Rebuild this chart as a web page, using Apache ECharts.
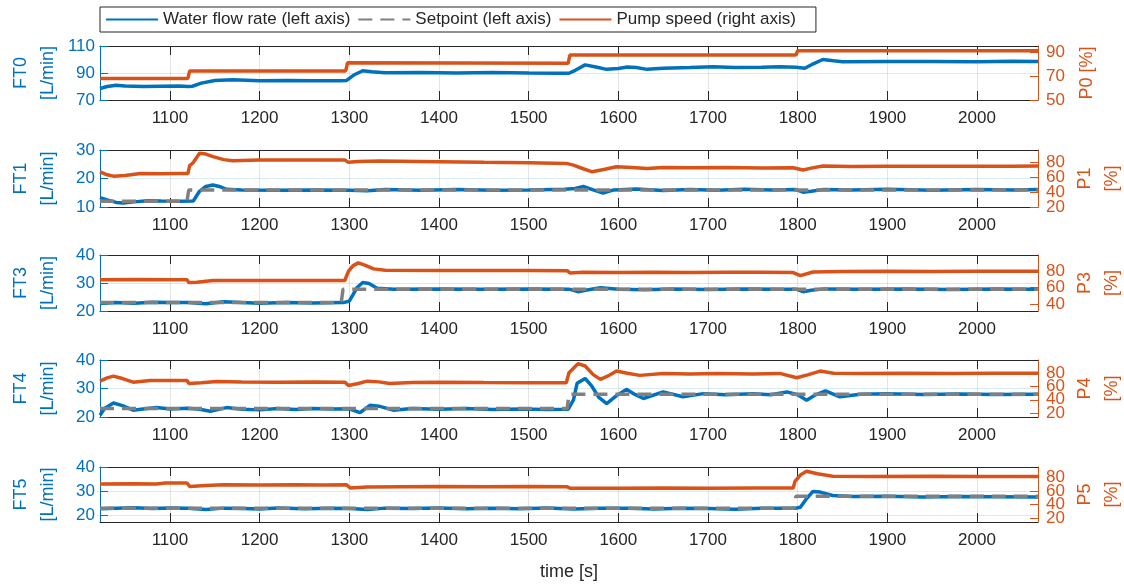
<!DOCTYPE html>
<html>
<head>
<meta charset="utf-8">
<script src="https://cdn.jsdelivr.net/npm/echarts@6/dist/echarts.min.js"></script>
<style>
html, body { margin: 0; padding: 0; background: #fff; }
#chart { width: 1124px; height: 585px; }
</style>
</head>
<body>
<div id="chart"></div>
<script>
// time ticks shared by every panel
var timeTicks = [1100, 1200, 1300, 1400, 1500, 1600, 1700, 1800, 1900, 2000];

// FT0 / P0
var ft0Flow = [[1022,78.5],[1030,80],[1040,81],[1050,80.3],[1070,80],[1090,80.2],[1110,80.4],[1120,80],[1125,80.2],[1135,82.5],[1150,84.5],[1170,85],[1200,84.3],[1230,84.5],[1260,84.2],[1290,84.3],[1297,84.5],[1305,88.5],[1315,91.7],[1325,91],[1340,90.2],[1380,90.3],[1420,90],[1460,90.3],[1500,90],[1530,89.8],[1545,89.8],[1552,92],[1563,96],[1575,94.5],[1587,92.7],[1600,93.3],[1610,94.5],[1620,94],[1632,92.7],[1650,93.5],[1680,94],[1706,94.6],[1730,94],[1760,94.2],[1780,94.6],[1798,94.2],[1808,93.5],[1818,97],[1828,100],[1840,99],[1850,98.4],[1900,98.5],[1950,98.6],[2000,98.4],[2040,98.7],[2068,98.6]];
var p0Pump = [[1022,68],[1120,68],[1122,74.2],[1296,74.2],[1298,81],[1544,80.6],[1546,87.5],[1798,87.5],[1800,91],[2068,91]];
var ft0Ticks = [70, 90, 110];
var p0Ticks = [50, 70, 90];

// FT1 / P1
var ft1Flow = [[1022,13.3],[1030,12.5],[1040,11.6],[1048,11.4],[1060,11.8],[1075,12.2],[1090,12.1],[1110,12],[1126,12.1],[1133,15.5],[1140,17.2],[1148,17.7],[1155,17.2],[1163,16.2],[1180,16],[1220,15.9],[1260,16],[1300,15.9],[1320,15.7],[1340,16.1],[1380,15.9],[1420,16.1],[1460,15.9],[1500,16],[1540,16.2],[1552,16.5],[1561,17.2],[1572,16],[1583,14.9],[1595,16],[1620,16.3],[1650,15.8],[1680,16.1],[1710,15.9],[1740,16.2],[1770,16],[1798,16.1],[1806,15.2],[1815,15.5],[1828,16.1],[1860,16],[1900,16.2],[1950,15.9],[2000,16.1],[2040,16],[2068,16.1]];
var ft1Set = [[1022,12],[1119,12],[1121,16],[2068,16]];
var p1Pump = [[1022,67.6],[1030,63.5],[1037,61.7],[1050,62.5],[1067,65.4],[1090,65],[1110,65.2],[1120,65.2],[1122,76],[1126,80],[1133,92.5],[1140,91.5],[1148,88],[1160,84],[1170,82.5],[1200,83.4],[1250,83.6],[1295,83.4],[1299,80.3],[1310,81.5],[1334,82.1],[1400,81.1],[1450,80.3],[1500,79.8],[1542,78.9],[1550,76.6],[1560,72],[1571,67.5],[1585,71],[1598,74.4],[1615,73.5],[1632,72.1],[1650,73.5],[1683,73],[1720,73.3],[1760,72.8],[1795,73],[1806,69.9],[1815,72.5],[1828,75.3],[1860,74.8],[1900,75.2],[1950,74.9],[2000,75.2],[2040,75],[2068,75.3]];
var ft1Ticks = [10, 20, 30];
var p1Ticks = [20, 40, 60, 80];

// FT3 / P3
var ft3Flow = [[1022,22.7],[1040,23],[1060,22.8],[1080,23.1],[1100,23],[1120,23],[1140,22.6],[1160,23.3],[1180,23],[1200,22.8],[1230,23],[1260,22.9],[1293,23],[1300,23.5],[1309,28.5],[1315,30.2],[1322,29.8],[1331,28.1],[1350,27.8],[1400,27.9],[1450,27.8],[1500,27.9],[1545,27.8],[1555,26.9],[1565,27.5],[1580,28.3],[1600,27.8],[1630,27.6],[1660,27.9],[1700,27.7],[1740,27.9],[1780,27.8],[1798,27.8],[1806,26.9],[1815,27.4],[1830,27.9],[1870,27.8],[1920,27.9],[1970,27.7],[2020,27.9],[2068,27.8]];
var ft3Set = [[1022,23],[1291,23],[1293,27.8],[2068,27.8]];
var p3Pump = [[1022,69.4],[1060,69.6],[1100,69.3],[1119,69.3],[1121,66.2],[1130,66.5],[1148,68.4],[1200,68.5],[1250,68.5],[1295,68.5],[1299,79.5],[1304,86],[1310,89.6],[1318,86.5],[1327,82.4],[1340,80.7],[1400,80.6],[1450,80.5],[1500,80.4],[1543,80.3],[1546,77.6],[1560,78.4],[1600,78.2],[1640,78.5],[1680,78.2],[1720,78.4],[1760,78.3],[1795,78],[1803,74.3],[1817,78.7],[1850,79.3],[1900,79.5],[1950,79.4],[2000,79.5],[2068,79.5]];
var ft3Ticks = [20, 30, 40];
var p3Ticks = [40, 60, 80];

// FT4 / P4
var ft4Flow = [[1022,20.6],[1027,23],[1037,24.9],[1047,24],[1059,22.4],[1070,22.8],[1085,23.3],[1100,22.8],[1120,23.1],[1133,22.7],[1145,22],[1163,23.3],[1180,22.7],[1200,22.5],[1220,23],[1240,22.6],[1260,23],[1280,22.8],[1300,22.9],[1312,21.5],[1323,24.1],[1333,23.8],[1349,22.4],[1370,23],[1400,22.7],[1430,23],[1460,22.6],[1490,22.8],[1520,22.6],[1544,22.7],[1550,26],[1554,31.8],[1563,33.5],[1570,31],[1578,27],[1587,24.7],[1598,27.5],[1609,29.7],[1618,28],[1628,26.5],[1650,28.8],[1672,27.1],[1695,28.2],[1720,27.8],[1750,28.2],[1770,27.8],[1788,28.8],[1800,27.8],[1810,25.9],[1820,27.8],[1831,29.2],[1847,27.1],[1870,28],[1900,28.2],[1940,27.9],[1980,28.1],[2020,27.9],[2068,28]];
var ft4Set = [[1022,23],[1543,23],[1545,28],[2068,28]];
var p4Pump = [[1022,68.1],[1030,73],[1037,75.7],[1047,72],[1059,66.6],[1078,69.2],[1100,69],[1119,69.2],[1121,64.6],[1135,65.5],[1152,67.6],[1180,66.8],[1220,66.4],[1260,66.8],[1295,66.6],[1299,61.6],[1310,64.5],[1320,68.1],[1333,67],[1345,64.6],[1370,66],[1400,66.3],[1450,66],[1500,65.8],[1542,65.7],[1545,80.9],[1555,94.5],[1563,91],[1572,78],[1580,70.7],[1590,77],[1598,83.3],[1610,80],[1624,76.8],[1650,79.5],[1680,78.8],[1710,79.5],[1750,79],[1780,79.8],[1799,73.3],[1812,78],[1825,83.3],[1840,80],[1870,79.5],[1920,80],[1970,79.8],[2020,80],[2068,80]];
var ft4Ticks = [20, 30, 40];
var p4Ticks = [20, 40, 60, 80];

// FT5 / P5
var ft5Flow = [[1022,22.5],[1040,22.8],[1060,23],[1080,22.6],[1100,22.9],[1120,22.7],[1140,22.2],[1160,22.8],[1180,22.6],[1200,22.4],[1220,22.9],[1250,22.5],[1280,22.8],[1300,22.6],[1320,22.2],[1340,22.8],[1370,22.6],[1400,22.9],[1430,22.5],[1460,22.8],[1490,22.5],[1520,22.9],[1550,22.4],[1580,22.7],[1610,22.8],[1640,22.4],[1670,22.7],[1700,22.6],[1730,22.3],[1760,22.8],[1797,22.7],[1803,23.2],[1810,26.8],[1817,29.8],[1825,29.5],[1839,28.1],[1860,27.7],[1900,27.8],[1940,27.5],[1980,27.7],[2020,27.6],[2068,27.5]];
var ft5Set = [[1022,22.8],[1796,22.8],[1798,27.8],[2068,27.8]];
var p5Pump = [[1022,70.7],[1060,71],[1085,70.5],[1095,72],[1119,72.2],[1122,67.1],[1140,68.5],[1160,69.6],[1200,69],[1240,69.6],[1270,69.2],[1297,69.6],[1301,64.7],[1320,66.2],[1360,66.6],[1400,66.8],[1450,66.5],[1500,66.8],[1543,66.6],[1546,64.5],[1600,64.3],[1650,64.7],[1700,64.5],[1750,64.7],[1795,64.7],[1797,74.6],[1803,84],[1810,89.6],[1822,86],[1839,82.1],[1880,82],[1950,82.2],[2000,82],[2068,81.8]];
var ft5Ticks = [20, 30, 40];
var p5Ticks = [20, 40, 60, 80];

var FLOW = 'Water flow rate (left axis)';
var SET = 'Setpoint (left axis)';
var PUMP = 'Pump speed (right axis)';

var TXT = '#262626', BLUE = '#0072BD', ORANGE = '#D95319', GRAY = '#808080';
var FONT = '"Liberation Sans", Arial, sans-serif';

var panels = [
  { flow: ft0Flow, set: null,   pump: p0Pump, left: [70, 110], lt: ft0Ticks, right: [50, 95],  rt: p0Ticks, ln: 'FT0\n[L/min]', rn: 'P0 [%]',  top: 46,  h: 54 },
  { flow: ft1Flow, set: ft1Set, pump: p1Pump, left: [10, 30],  lt: ft1Ticks, right: [20, 97],  rt: p1Ticks, ln: 'FT1\n[L/min]', rn: 'P1\n[%]', top: 150, h: 57 },
  { flow: ft3Flow, set: ft3Set, pump: p3Pump, left: [20, 40],  lt: ft3Ticks, right: [32, 99],  rt: p3Ticks, ln: 'FT3\n[L/min]', rn: 'P3\n[%]', top: 255, h: 56 },
  { flow: ft4Flow, set: ft4Set, pump: p4Pump, left: [20, 40],  lt: ft4Ticks, right: [14, 100], rt: p4Ticks, ln: 'FT4\n[L/min]', rn: 'P4\n[%]', top: 360, h: 57 },
  { flow: ft5Flow, set: ft5Set, pump: p5Pump, left: [17, 40],  lt: ft5Ticks, right: [14, 96],  rt: p5Ticks, ln: 'FT5\n[L/min]', rn: 'P5\n[%]', top: 467, h: 55 }
];

var chart = echarts.init(document.getElementById('chart'));

var grids = [], xAxes = [], yAxes = [], series = [];
var plain = function (v) { return String(v); };

// right-axis labels sit very close together, so they are split over two
// overlaid axes (same range) to stop echarts from dropping any of them
function rightAxis(p, i, ticks, main) {
  return {
    type: 'value', gridIndex: i, position: 'right', offset: 0, min: p.right[0], max: p.right[1],
    axisLine: { show: main, onZero: false, lineStyle: { color: ORANGE, width: 1 } },
    axisTick: { show: true, inside: true, length: 8, customValues: ticks, lineStyle: { color: ORANGE } },
    axisLabel: { customValues: ticks, formatter: plain, hideOverlap: false, showMinLabel: true, showMaxLabel: true, color: ORANGE, fontSize: 17, margin: 8, fontFamily: FONT },
    splitLine: { show: false },
    name: main ? p.rn : '', nameLocation: 'middle', nameRotate: 90,
    nameGap: p.rn.indexOf('\n') > 0 ? 34 : 36, nameMoveOverlap: false,
    nameTextStyle: { color: ORANGE, fontSize: 18, lineHeight: 27, fontFamily: FONT }
  };
}

panels.forEach(function (p, i) {
  grids.push({ left: 100, right: 86, top: p.top, height: p.h, containLabel: false, outerBoundsMode: 'none' });

  xAxes.push({
    type: 'value', gridIndex: i, position: 'bottom', min: 1022, max: 2068,
    axisLine: { show: true, onZero: false, lineStyle: { color: TXT, width: 1 } },
    axisTick: { show: true, inside: true, length: 9, customValues: timeTicks, lineStyle: { color: TXT } },
    axisLabel: { customValues: timeTicks, formatter: plain, hideOverlap: false, showMinLabel: true, showMaxLabel: true, color: TXT, fontSize: 17, margin: 10, fontFamily: FONT },
    splitLine: { show: true, lineStyle: { color: 'rgba(38,38,38,0.12)', width: 1 } },
    name: i === 4 ? 'time [s]' : '', nameLocation: 'middle', nameGap: 41,
    nameTextStyle: { color: TXT, fontSize: 18, fontFamily: FONT }
  });
  xAxes.push({
    type: 'value', gridIndex: i, position: 'top', min: 1022, max: 2068,
    axisLine: { show: true, onZero: false, lineStyle: { color: TXT, width: 1 } },
    axisTick: { show: true, inside: true, length: 9, customValues: timeTicks, lineStyle: { color: TXT } },
    axisLabel: { show: false },
    splitLine: { show: false }
  });

  var base = yAxes.length;
  yAxes.push({
    type: 'value', gridIndex: i, position: 'left', min: p.left[0], max: p.left[1],
    axisLine: { show: true, onZero: false, lineStyle: { color: BLUE, width: 1 } },
    axisTick: { show: true, inside: true, length: 8, customValues: p.lt, lineStyle: { color: BLUE } },
    axisLabel: { customValues: p.lt, formatter: plain, hideOverlap: false, showMinLabel: true, showMaxLabel: true, color: BLUE, fontSize: 17, margin: 5, fontFamily: FONT },
    splitLine: { show: true, lineStyle: { color: 'rgba(0,114,189,0.15)', width: 1 } },
    name: p.ln, nameLocation: 'middle', nameRotate: 90, nameGap: 38, nameMoveOverlap: false,
    nameTextStyle: { color: BLUE, fontSize: 18, lineHeight: 27, fontFamily: FONT }
  });
  var evenTicks = p.rt.filter(function (v, k) { return k % 2 === 0; });
  var oddTicks = p.rt.filter(function (v, k) { return k % 2 === 1; });
  yAxes.push(rightAxis(p, i, evenTicks, true));
  yAxes.push(rightAxis(p, i, oddTicks, false));

  series.push({
    name: FLOW, type: 'line', xAxisIndex: 2 * i, yAxisIndex: base, data: p.flow,
    symbol: 'none', color: BLUE, lineStyle: { width: 3.5, color: BLUE }, z: 2
  });
  if (p.set) {
    series.push({
      name: SET, type: 'line', xAxisIndex: 2 * i, yAxisIndex: base, data: p.set,
      symbol: 'none', color: GRAY, lineStyle: { width: 3.5, color: GRAY, type: [14, 8] }, z: 3
    });
  }
  series.push({
    name: PUMP, type: 'line', xAxisIndex: 2 * i, yAxisIndex: base + 1, data: p.pump,
    symbol: 'none', color: ORANGE, lineStyle: { width: 3.5, color: ORANGE }, z: 4
  });
});

var option = {
  animation: false,
  backgroundColor: '#fff',
  legend: {
    data: [FLOW, SET, PUMP],
    left: 100, top: 7,
    padding: [4, 20, 4, 5],
    itemWidth: 52, itemHeight: 14, itemGap: 7,
    itemStyle: { opacity: 0, color: 'rgba(0,0,0,0)', borderWidth: 0 },
    borderColor: TXT, borderWidth: 1, borderRadius: 0, backgroundColor: '#fff',
    textStyle: { color: TXT, fontSize: 17, fontFamily: FONT },
    selectedMode: false
  },
  grid: grids,
  xAxis: xAxes,
  yAxis: yAxes,
  series: series
};

chart.setOption(option);
</script>
</body>
</html>
